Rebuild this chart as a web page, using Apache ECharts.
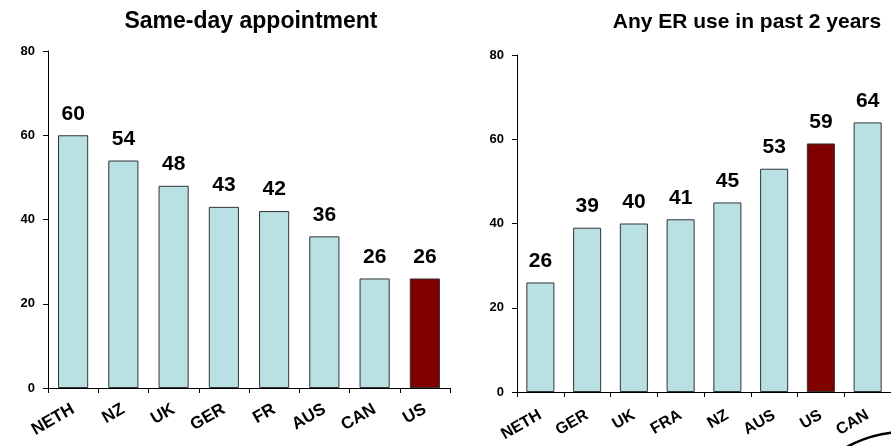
<!DOCTYPE html>
<html>
<head>
<meta charset="utf-8">
<script src="https://cdn.jsdelivr.net/npm/echarts@6/dist/echarts.min.js"></script>
<style>
html,body{margin:0;padding:0;background:#fff;}
#c{width:891px;height:446px;}
</style>
</head>
<body>
<div id="c"></div>
<script>
const leftTitle = 'Same-day appointment';
const leftCategories = ['NETH','NZ','UK','GER','FR','AUS','CAN','US'];
const leftValues = [60,54,48,43,42,36,26,26];
const rightTitle = 'Any ER use in past 2 years';
const rightCategories = ['NETH','GER','UK','FRA','NZ','AUS','US','CAN'];
const rightValues = [26,39,40,41,45,53,59,64];
const highlight = 'US';
const yTicks = [0,20,40,60,80];

const FONT = 'Liberation Sans, Arial, sans-serif';
const LIGHT = '#B9E0E3';
const DARK = '#800000';

function barData(cats, vals){
  return vals.map((v,i)=>({value:v, itemStyle:{color: cats[i]===highlight ? DARK : LIGHT}}));
}
function xAxis(idx, cats, fs, margin){
  return {type:'category', gridIndex:idx, data:cats,
    axisLine:{lineStyle:{color:'#000',width:1}},
    axisTick:{show:true, alignWithLabel:false, length:5, lineStyle:{color:'#000'}},
    axisLabel:{rotate:30, color:'#000', fontFamily:FONT, fontWeight:'bold', fontSize:fs, margin:margin, interval:0}};
}
function yAxis(idx){
  return {type:'value', gridIndex:idx, min:yTicks[0], max:yTicks[yTicks.length-1], interval:20,
    axisLine:{show:true, lineStyle:{color:'#000',width:1}},
    axisTick:{show:true, length:5, lineStyle:{color:'#000'}},
    splitLine:{show:false},
    axisLabel:{color:'#000', fontFamily:FONT, fontWeight:'bold', fontSize:13, margin:13}};
}
function series(idx, cats, vals){
  return {type:'bar', xAxisIndex:idx, yAxisIndex:idx, data:barData(cats, vals),
    barCategoryGap:'40%',
    itemStyle:{borderColor:'#333', borderWidth:1},
    label:{show:true, position:'top', distance:11, color:'#000', fontFamily:FONT, fontWeight:'bold', fontSize:21}};
}

const chart = echarts.init(document.getElementById('c'));
chart.setOption({
  backgroundColor:'#fff',
  animation:false,
  title:[
    {text:leftTitle, left:246, top:5, textAlign:'center',
     textStyle:{fontFamily:FONT, fontWeight:'bold', fontSize:23, color:'#000'}},
    {text:rightTitle, left:742, top:7, textAlign:'center',
     textStyle:{fontFamily:FONT, fontWeight:'bold', fontSize:21, color:'#000'}}
  ],
  grid:[
    {left:48, right:441, top:51, bottom:58},
    {left:517, right:-4, top:55, bottom:54}
  ],
  xAxis:[xAxis(0, leftCategories, 17, 20), xAxis(1, rightCategories, 16, 22)],
  yAxis:[yAxis(0), yAxis(1)],
  series:[series(0, leftCategories, leftValues), series(1, rightCategories, rightValues)],
  graphic:[
    {type:'arc', shape:{cx:905, cy:552, r:120, startAngle:Math.PI*1.12, endAngle:Math.PI*1.6},
     style:{stroke:'#000', lineWidth:2.5, fill:null}}
  ]
});
</script>
</body>
</html>
